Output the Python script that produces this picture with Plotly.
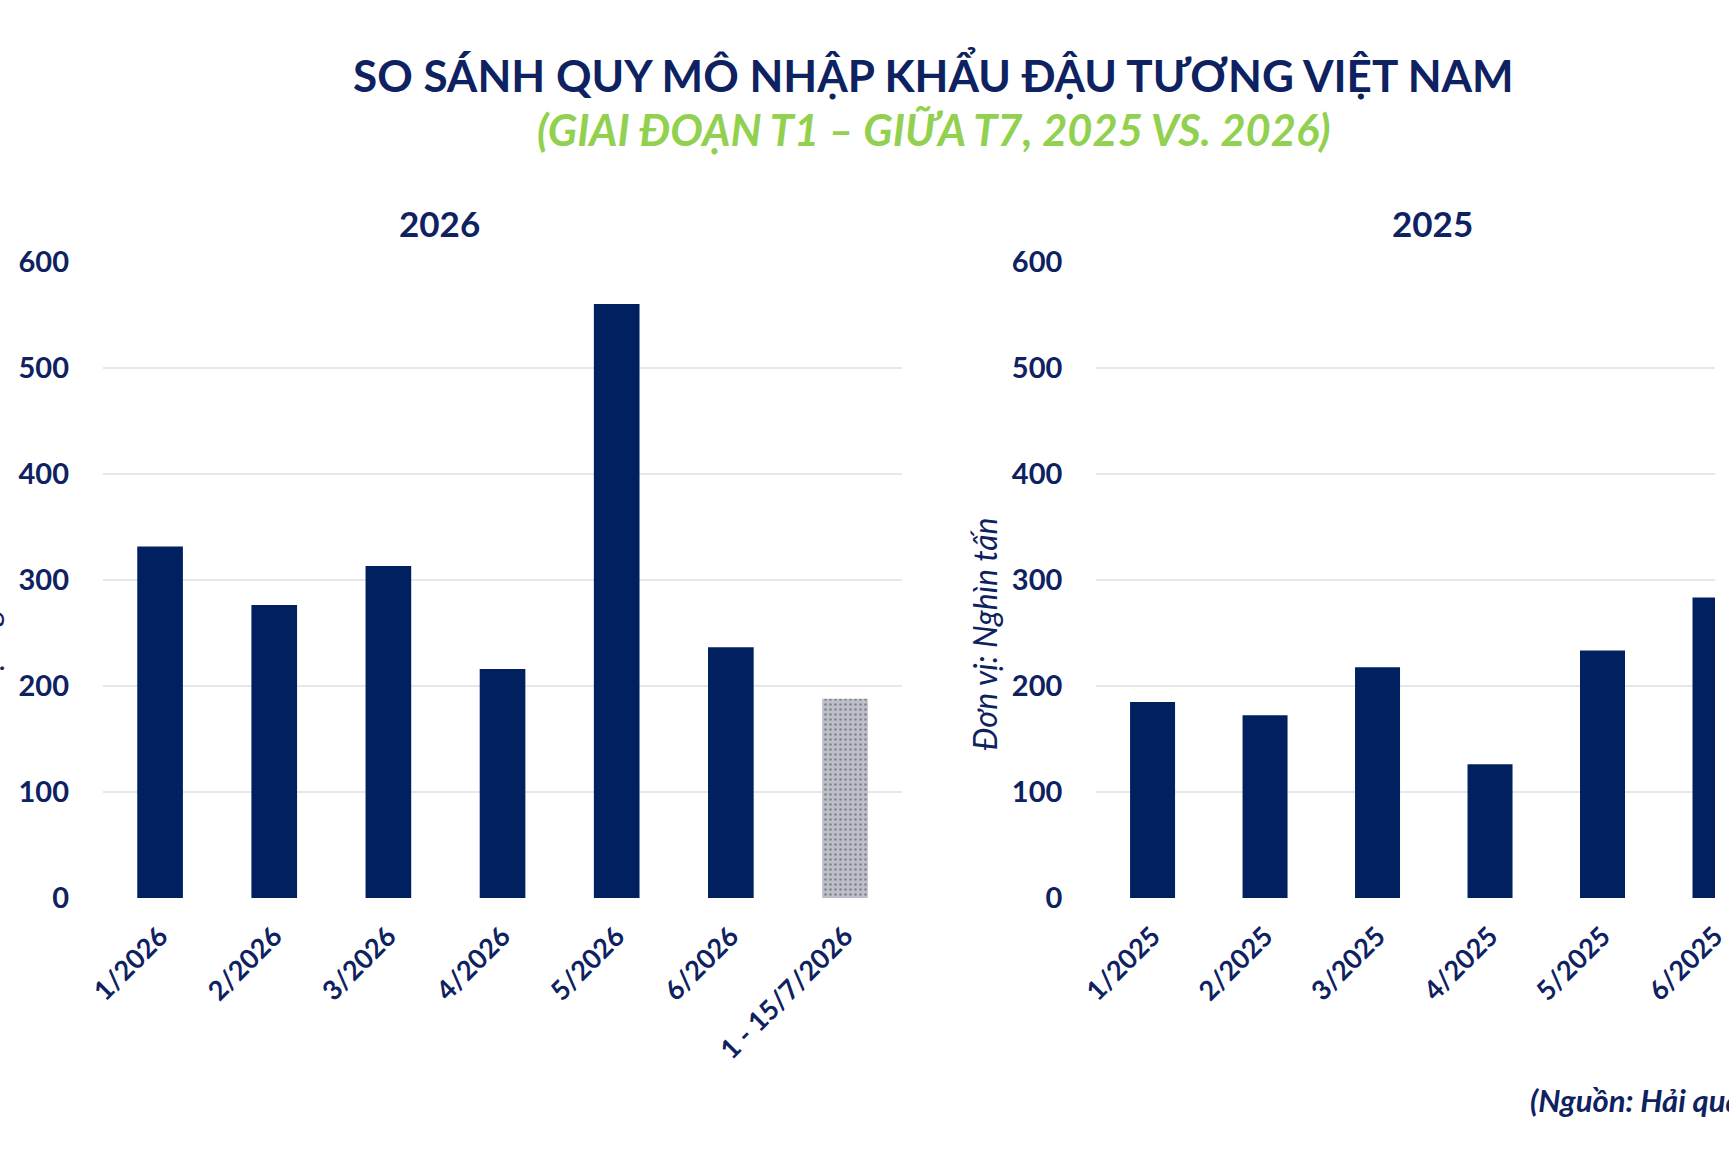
import plotly.graph_objects as go

# dữ liệu nhập khẩu (nghìn tấn)
months_2026 = ["1/2026", "2/2026", "3/2026", "4/2026", "5/2026", "6/2026", "1 - 15/7/2026"]
values_2026 = [331.7, 276.3, 313.1, 216.0, 560.4, 236.6, 188.0]

months_2025 = ["1/2025", "2/2025", "3/2025", "4/2025", "5/2025", "6/2025"]
values_2025 = [185.0, 172.5, 217.6, 126.2, 233.6, 283.4]

y_ticks = [0, 100, 200, 300, 400, 500, 600]

NAVY = "#0E2160"
BAR = "#002060"
GREEN = "#92D050"
GRID = "#E6E7EA"
FONT = "Lato"

# cột cuối (nửa đầu tháng 7) tô màu xám có chấm
bar_colors_2026 = [BAR] * (len(months_2026) - 1) + ["#BCBFCA"]
pattern_2026 = [""] * (len(months_2026) - 1) + ["."]

fig = go.Figure()

fig.add_trace(go.Bar(
    x=months_2026, y=values_2026,
    xaxis="x", yaxis="y",
    marker=dict(
        color=bar_colors_2026,
        line=dict(width=0),
        pattern=dict(shape=pattern_2026, fgcolor="#E6E8EE", size=5, solidity=0.2),
    ),
    showlegend=False,
))

fig.add_trace(go.Bar(
    x=months_2025, y=values_2025,
    xaxis="x2", yaxis="y2",
    marker=dict(color=BAR, line=dict(width=0)),
    showlegend=False,
))

axis_x = dict(
    type="category",
    tickangle=-45,
    tickfont=dict(family=FONT, size=27, color=NAVY, weight="bold"),
    ticklabelstandoff=16,
    showgrid=False,
    showline=False,
    zeroline=False,
)
axis_y = dict(
    range=[0, 600],
    tickvals=y_ticks,
    tickfont=dict(family=FONT, size=29, color=NAVY, weight="bold"),
    ticklabelstandoff=33,
    showgrid=True,
    gridcolor=GRID,
    gridwidth=1.5,
    zeroline=False,
    showline=False,
)

fig.update_layout(
    width=1729,
    height=1153,
    paper_bgcolor="white",
    plot_bgcolor="white",
    margin=dict(l=103, r=0, t=262, b=255),
    bargap=0.6,
    xaxis=dict(axis_x, domain=[0, 0.4957], range=[-0.5, 6.5], anchor="y"),
    yaxis=dict(axis_y, anchor="x"),
    xaxis2=dict(axis_x, domain=[0.6162, 1.0], range=[-0.5, 5.0], anchor="y2"),
    yaxis2=dict(axis_y, anchor="x2"),
)

annotations = [
    dict(text="SO SÁNH QUY MÔ NHẬP KHẨU ĐẬU TƯƠNG VIỆT NAM",
         x=0.5154, y=1.2956, font=dict(family=FONT, size=44, color=NAVY, weight="bold")),
    dict(text="<i>(GIAI ĐOẠN T1 – GIỮA T7, 2025 VS. 2026)</i>",
         x=0.5154, y=1.209, font=dict(family=FONT, size=43.4, color=GREEN, weight="bold")),
    dict(text="2026", x=0.2085, y=1.0618,
         font=dict(family=FONT, size=35, color=NAVY, weight="bold")),
    dict(text="2025", x=0.8250, y=1.0618,
         font=dict(family=FONT, size=35, color=NAVY, weight="bold")),
    dict(text="<i>Đơn vị: Nghìn tấn</i>", x=-0.0725, y=0.4154, textangle=-90,
         font=dict(family=FONT, size=32, color=NAVY)),
    dict(text="<i>Đơn vị: Nghìn tấn</i>", x=0.5470, y=0.4154, textangle=-90,
         font=dict(family=FONT, size=32, color=NAVY)),
    dict(text="<i>(Nguồn: Hải quan Việt Nam)</i>", x=0.8838, y=-0.3176, xanchor="left",
         font=dict(family=FONT, size=31, color=NAVY, weight="bold")),
]
for a in annotations:
    a.setdefault("xanchor", "center")
    fig.add_annotation(xref="paper", yref="paper", yanchor="middle", showarrow=False, **a)

# bỏ lề mặc định và thanh cuộn của trang để hình khớp đúng khung 1729x1153
fig.write_html(
    "out.html",
    config={"displayModeBar": False},
    post_script=(
        "document.body.style.margin = '0';"
        "document.documentElement.style.overflow = 'hidden';"
        "document.body.style.overflow = 'hidden';"
    ),
)
